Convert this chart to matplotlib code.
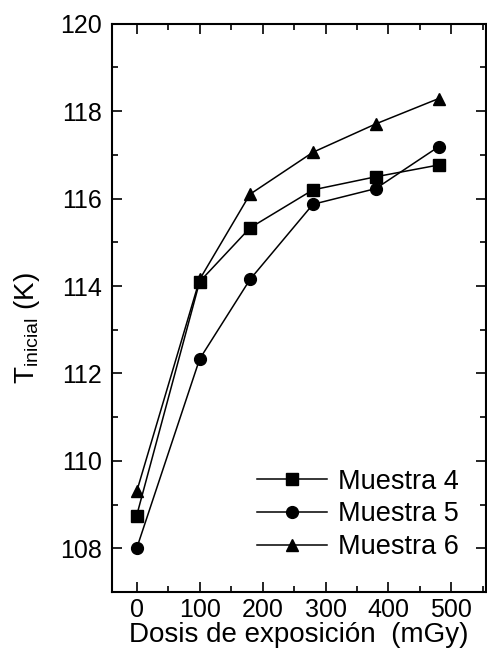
import matplotlib
matplotlib.use("Agg")
import matplotlib.pyplot as plt
from matplotlib.ticker import MultipleLocator

# ------------------------------------------------------------
# Data
# ------------------------------------------------------------
dosis = [0, 100, 180, 280, 380, 480]
muestra_4 = [108.75, 114.1, 115.33, 116.2, 116.5, 116.77]
muestra_5 = [108.0, 112.33, 114.15, 115.87, 116.23, 117.19]
muestra_6 = [109.3, 114.15, 116.1, 117.06, 117.71, 118.29]

series = [
    ("Muestra 4", muestra_4, "s", 8),
    ("Muestra 5", muestra_5, "o", 8.5),
    ("Muestra 6", muestra_6, "^", 9),
]

plt.rcParams["font.family"] = ["Liberation Sans", "DejaVu Sans"]
plt.rcParams["mathtext.fontset"] = "custom"
plt.rcParams["mathtext.rm"] = "Liberation Sans"
plt.rcParams["mathtext.default"] = "regular"

fig = plt.figure(figsize=(4.87, 6.6), dpi=100)
ax = fig.add_axes([0.229, 0.103, 0.769, 0.861])

for label, vals, mk, ms in series:
    ax.plot(dosis, vals, color="black", lw=1.1, marker=mk, ms=ms,
            label=label)

ax.set_xlim(-40, 555)
ax.set_ylim(107, 120)
ax.xaxis.set_major_locator(MultipleLocator(100))
ax.xaxis.set_minor_locator(MultipleLocator(50))
ax.yaxis.set_major_locator(MultipleLocator(2))
ax.yaxis.set_minor_locator(MultipleLocator(1))

ax.tick_params(which="both", direction="in", top=True, right=True,
               labelsize=18, width=1.2)
ax.tick_params(which="major", length=7)
ax.tick_params(which="minor", length=4)
ax.tick_params(axis="y", pad=7)
ax.tick_params(axis="x", pad=4)
for s in ax.spines.values():
    s.set_linewidth(1.5)

ax.set_xlabel("Dosis de exposición  (mGy)", fontsize=20, labelpad=0)
ax.set_ylabel(r"T$_{inicial}$ (K)", fontsize=20)
ax.yaxis.set_label_coords(-0.185, 0.465)

ax.legend(loc="lower right", bbox_to_anchor=(0.928, 0.056), frameon=False,
          fontsize=19.5, handlelength=2.6, handletextpad=0.4,
          labelspacing=0.25, borderaxespad=0, borderpad=0)

fig.savefig("out.png", dpi=100)
